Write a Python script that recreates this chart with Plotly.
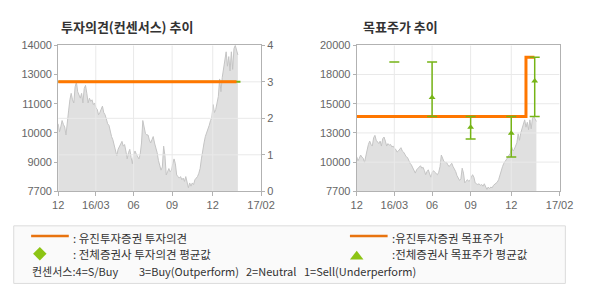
import plotly.graph_objects as go

# ---------------- data ----------------
prices = [
    10614, 10270, 10477, 10755, 10589, 10477, 10133, 10548, 11170, 11650,
    11928, 11650, 11513, 12206, 12413, 11998, 11857, 11720, 11928, 11513,
    12135, 12272, 11928, 11513, 11720, 11584, 11650, 11443, 11513, 11306,
    11236, 11003, 11099, 11236, 11377, 11099, 11003, 10821, 10614, 10548,
    10270, 10062, 9925, 9648, 9441, 9234, 9511, 9648, 9785, 9855,
    9648, 9718, 9441, 9097, 9370, 9511, 9163, 8890, 9304, 9441,
    9304, 9163, 9097, 9304, 9785, 10755, 10477, 10200, 10133, 10133,
    9925, 9785,
    9925, 10062, 9785, 9578, 9370, 9026, 8819, 8612, 8750, 9648,
    9234, 8405, 8543, 8682, 8543, 8612, 8890, 9097, 8890, 8405,
    8334, 8268, 8334, 8197, 8268, 8127, 8334, 8127, 7853, 8060,
    7920, 8060, 7990, 8197, 8268, 8334, 8475, 8682, 9097, 9578,
    9785, 10062, 10200, 10407, 10548, 10755, 10892, 11443, 11099, 11236,
    11513, 11791, 12550, 11998, 12620, 13035, 13449, 13722, 13101, 13515,
    12894, 13722, 12964, 13864, 14000, 13793, 13586,
]
day_idx = list(range(len(prices)))

# x-axis months (positions in trading-day index units)
month_labels = ["12", "16/03", "06", "09", "12", "17/02"]
month_pos = [0, 28.9, 57.9, 87.5, 118.7, 155.8]

# left chart: investment opinion (consensus scale 0-4)
opinion_x = [0, 137]
opinion_val = [3, 3]
cons_avg_x = [0, 140]
cons_avg_val = [3, 3]
opinion_ticks = [0, 1, 2, 3, 4]

# right chart: target price
target_x = [0, 130, 136.5]
target_val = [14000, 19000, 19000]

# all brokers target price range & average
report_x = [28.9, 57.9, 87.5, 118.7, 136.7]
tp_high = [18600, 18600, 14000, 14000, 19000]
tp_low = [18600, 14000, 12100, 10600, 14000]
tp_avg = [None, 15600, 13100, 12600, 17000]

# axis ticks
left_tickvals = [7700, 8960, 10220, 11480, 12740, 14000]
left_ticktext = ["7700", "9000", "10000", "11000", "13000", "14000"]
right_tickvals = [7700, 10160, 12620, 15080, 17540, 20000]
right_ticktext = ["7700", "10000", "13000", "15000", "18000", "20000"]

# ---------------- styles ----------------
ORANGE = "#ff7700"
LEG_ORANGE = "#e8730f"
GREEN = "#76b416"
LEG_GREEN = "#8cc414"
AREA = "#e0e0e0"
AREA_LINE = "#c4c4c4"
GRID = "#e9e9e9"
AXL = "#b2b2b2"
TICKFONT = dict(family="Liberation Sans, Arial, sans-serif", size=11, color="#666666")
KFONT = "Noto Sans CJK KR, sans-serif"

W, H = 590, 300
def px(x):
    return x / W
def py(y):
    return 1 - y / H

def grid_xy(vpos, vrange, hpos, hrange):
    """gridline segments (vertical at vpos, horizontal at hpos)"""
    gx, gy = [], []
    for v in vpos:
        gx += [v, v, None]
        gy += [vrange[0], vrange[1], None]
    return gx, gy

def hgrid_xy(hpos, xrange_):
    gx, gy = [], []
    for h in hpos:
        gx += [xrange_[0], xrange_[1], None]
        gy += [h, h, None]
    return gx, gy

inner_months = month_pos[1:-1]
xr = [month_pos[0], month_pos[-1]]

fig = go.Figure()

# ----- left chart -----
fig.add_trace(go.Scatter(x=day_idx, y=prices, mode="lines", fill="tozeroy",
                         fillcolor=AREA, line=dict(color=AREA_LINE, width=1),
                         xaxis="x", yaxis="y", hoverinfo="skip"))
gx, gy = grid_xy(inner_months, [left_tickvals[0], left_tickvals[-1]], None, None)
fig.add_trace(go.Scatter(x=gx, y=gy, mode="lines", line=dict(color=GRID, width=1),
                         xaxis="x", yaxis="y", hoverinfo="skip"))
gx, gy = hgrid_xy(opinion_ticks[1:-1], xr)
fig.add_trace(go.Scatter(x=gx, y=gy, mode="lines", line=dict(color=GRID, width=1),
                         xaxis="x", yaxis="y2", hoverinfo="skip"))
fig.add_trace(go.Scatter(x=cons_avg_x, y=cons_avg_val, mode="lines",
                         line=dict(color=GREEN, width=2), xaxis="x", yaxis="y2",
                         hoverinfo="skip"))
fig.add_trace(go.Scatter(x=opinion_x, y=opinion_val, mode="lines",
                         line=dict(color=ORANGE, width=3), xaxis="x", yaxis="y2",
                         hoverinfo="skip"))

# ----- right chart -----
fig.add_trace(go.Scatter(x=day_idx, y=prices, mode="lines", fill="tozeroy",
                         fillcolor=AREA, line=dict(color=AREA_LINE, width=1),
                         xaxis="x2", yaxis="y3", hoverinfo="skip"))
gx, gy = grid_xy(inner_months, [right_tickvals[0], right_tickvals[-1]], None, None)
hx, hy = hgrid_xy(right_tickvals[1:-1], xr)
fig.add_trace(go.Scatter(x=gx + hx, y=gy + hy, mode="lines",
                         line=dict(color=GRID, width=1),
                         xaxis="x2", yaxis="y3", hoverinfo="skip"))
fig.add_trace(go.Scatter(x=target_x, y=target_val, mode="lines",
                         line=dict(color=ORANGE, width=3, shape="hv"),
                         xaxis="x2", yaxis="y3", hoverinfo="skip"))
fig.add_trace(go.Scatter(
    x=report_x, y=tp_low, mode="markers",
    marker=dict(size=1, color="rgba(0,0,0,0)"),
    error_y=dict(type="data", symmetric=False,
                 array=[h - l for h, l in zip(tp_high, tp_low)],
                 arrayminus=[0] * len(tp_low), color=GREEN, thickness=1.5, width=5),
    xaxis="x2", yaxis="y3", hoverinfo="skip"))
fig.add_trace(go.Scatter(x=report_x, y=tp_avg, mode="markers",
                         marker=dict(symbol="triangle-up", size=6, color=GREEN),
                         xaxis="x2", yaxis="y3", hoverinfo="skip"))

xdomL = [px(54), px(264)]
xdomR = [px(363), px(573)]
ydom = [py(193), py(41)]

xcommon = dict(range=xr, tickvals=month_pos, ticktext=month_labels,
               showgrid=False, showline=True, linecolor=AXL,
               linewidth=1, mirror=True, ticks="outside", ticklen=4, tickcolor=AXL,
               tickfont=TICKFONT, zeroline=False, fixedrange=True)

fig.update_layout(
    width=W, height=H, margin=dict(l=0, r=0, t=0, b=0),
    paper_bgcolor="white", plot_bgcolor="white", showlegend=False,
    xaxis=dict(domain=xdomL, anchor="y", **xcommon),
    xaxis2=dict(domain=xdomR, anchor="y3", **xcommon),
    yaxis=dict(domain=ydom, anchor="x", range=[left_tickvals[0], left_tickvals[-1]],
               tickvals=left_tickvals, ticktext=left_ticktext, showgrid=False,
               showline=True, linecolor=AXL, ticks="outside", ticklen=3,
               tickcolor=AXL, tickfont=TICKFONT, zeroline=False),
    yaxis2=dict(overlaying="y", side="right", anchor="x",
                range=[opinion_ticks[0], opinion_ticks[-1]], tickvals=opinion_ticks,
                showgrid=False, showline=True, linecolor=AXL,
                ticks="outside", ticklen=3, tickcolor=AXL, tickfont=TICKFONT,
                zeroline=False),
    yaxis3=dict(domain=ydom, anchor="x2", range=[right_tickvals[0], right_tickvals[-1]],
                tickvals=right_tickvals, ticktext=right_ticktext, showgrid=False,
                showline=True, linecolor=AXL, mirror=True, ticks="outside", ticklen=3,
                tickcolor=AXL, tickfont=TICKFONT, zeroline=False),
)

anns = []
shapes = []
# titles
anns.append(dict(text="<b>투자의견(컨센서스) 추이</b>", x=px(55), y=py(21), xref="paper",
                 yref="paper", xanchor="left", yanchor="middle", showarrow=False,
                 font=dict(family=KFONT, size=13, color="#333333")))
anns.append(dict(text="<b>목표주가 추이</b>", x=px(367), y=py(21), xref="paper",
                 yref="paper", xanchor="left", yanchor="middle", showarrow=False,
                 font=dict(family=KFONT, size=13, color="#333333")))

# legend box
shapes.append(dict(type="rect", xref="paper", yref="paper", x0=px(8), x1=px(579),
                   y0=py(289), y1=py(229), fillcolor="#fafafa",
                   line=dict(color="#dcdcdc", width=1), layer="below"))
shapes.append(dict(type="line", xref="paper", yref="paper", x0=px(26), x1=px(65),
                   y0=py(239.5), y1=py(239.5), line=dict(color=LEG_ORANGE, width=2.5)))
shapes.append(dict(type="line", xref="paper", yref="paper", x0=px(356), x1=px(395),
                   y0=py(239.5), y1=py(239.5), line=dict(color=LEG_ORANGE, width=2.5)))
# diamond
cx, cy, r = 35, 258, 7
shapes.append(dict(type="path", xref="paper", yref="paper",
                   path=f"M {px(cx)},{py(cy-r)} L {px(cx+r)},{py(cy)} L {px(cx)},{py(cy+r)} L {px(cx-r)},{py(cy)} Z",
                   fillcolor=LEG_GREEN, line=dict(width=0)))
# triangle
tx, ty = 363, 259.5
shapes.append(dict(type="path", xref="paper", yref="paper",
                   path=f"M {px(tx-7)},{py(ty+4.5)} L {px(tx+7)},{py(ty+4.5)} L {px(tx)},{py(ty-4.5)} Z",
                   fillcolor=LEG_GREEN, line=dict(width=0)))

lf = dict(family=KFONT, size=11.5, color="#333333")
def leg_text(t, x, y, f=lf):
    anns.append(dict(text=t, x=px(x), y=py(y), xref="paper", yref="paper",
                     xanchor="left", yanchor="middle", showarrow=False, font=f,
                     borderpad=0))

leg_text(": 유진투자증권 투자의견", 68, 242)
leg_text(": 전체증권사 투자의견 평균값", 68, 258.5)
leg_text(":유진투자증권 목표주가", 398, 242)
leg_text(":전체증권사 목표주가 평균값", 398, 258.5)
sf = dict(family=KFONT, size=11, color="#333333")
leg_text("컨센서스:4=S/Buy", 26, 276, sf)
leg_text("3=Buy(Outperform)", 137, 276, sf)
leg_text("2=Neutral", 247, 276, sf)
leg_text("1=Sell(Underperform)", 307, 276, sf)

fig.update_layout(annotations=anns, shapes=shapes)
fig.write_html("out.html")
